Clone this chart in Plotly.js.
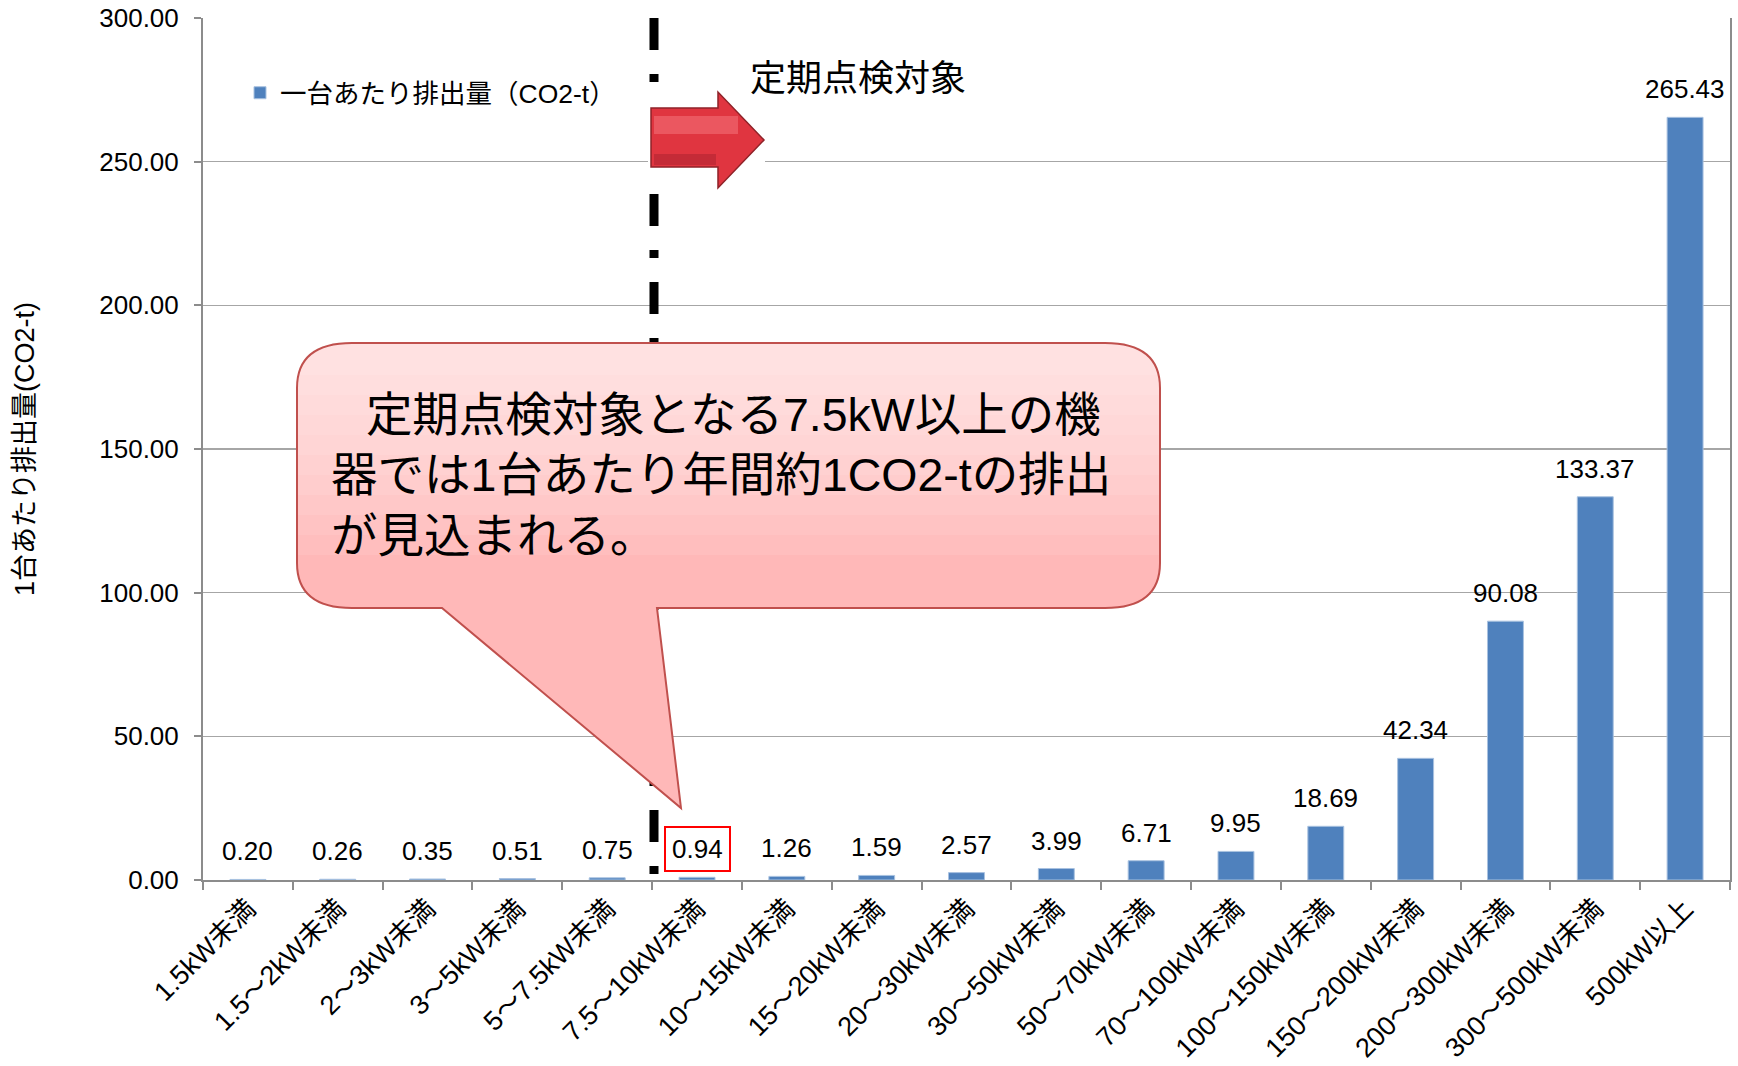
<!DOCTYPE html>
<html>
<head>
<meta charset="utf-8">
<script src="https://cdn.plot.ly/plotly-3.0.1.min.js"></script>
<style>
html,body{margin:0;padding:0;background:#fff;}
#chart{width:1738px;height:1066px;}
</style>
</head>
<body>
<div id="chart"></div>
<script>
// ---- data ----
const categories = ["1.5kW未満","1.5～2kW未満","2～3kW未満","3～5kW未満","5～7.5kW未満","7.5～10kW未満","10～15kW未満","15～20kW未満","20～30kW未満","30～50kW未満","50～70kW未満","70～100kW未満","100～150kW未満","150～200kW未満","200～300kW未満","300～500kW未満","500kW以上"];
const values = [0.20,0.26,0.35,0.51,0.75,0.94,1.26,1.59,2.57,3.99,6.71,9.95,18.69,42.34,90.08,133.37,265.43];
const seriesName = "一台あたり排出量（CO2-t）";
const yTickVals = [0,50,100,150,200,250,300];
const yTitle = "1台あたり排出量(CO2-t)";
const markerText = "定期点検対象";
const calloutText = "\u2002\u2005定期点検対象となる7.5kW以上の機<br>器では1台あたり年間約1CO2-tの排出<br>が見込まれる。";
const highlightIndex = 5;

// ---- layout helpers (pixel -> paper) ----
const L = 203, R = 1730, T = 18, B = 880;
const W = R - L, H = B - T;
const px = x => (x - L) / W;
const py = y => (B - y) / H;
const P = (x, y) => px(x).toFixed(5) + "," + py(y).toFixed(5);

const FONT = "Liberation Sans, Arial, Noto Sans CJK JP, sans-serif";
const CJK = "Liberation Sans, Noto Sans CJK JP, sans-serif";

function roundedTopPath(x0, y0, x1, y1, rx, ry) {
  return "M" + P(x0 + rx, y0) + " L" + P(x1 - rx, y0) +
    " Q" + P(x1, y0) + " " + P(x1, y0 + ry) +
    " L" + P(x1, y1) + " L" + P(x0, y1) +
    " L" + P(x0, y0 + ry) + " Q" + P(x0, y0) + " " + P(x0 + rx, y0) + " Z";
}
function calloutPath(x0, y0, x1, y1, rx, ry, b1, b2, tx, ty) {
  return "M" + P(x0 + rx, y0) + " L" + P(x1 - rx, y0) +
    " Q" + P(x1, y0) + " " + P(x1, y0 + ry) +
    " L" + P(x1, y1 - ry) + " Q" + P(x1, y1) + " " + P(x1 - rx, y1) +
    " L" + P(b2, y1) + " L" + P(tx, ty) + " L" + P(b1, y1) +
    " L" + P(x0 + rx, y1) + " Q" + P(x0, y1) + " " + P(x0, y1 - ry) +
    " L" + P(x0, y0 + ry) + " Q" + P(x0, y0) + " " + P(x0 + rx, y0) + " Z";
}

const cx0 = 297, cy0 = 343, cx1 = 1160, cy1 = 608, crx = 55, cry = 45;
const cPath = calloutPath(cx0, cy0, cx1, cy1, crx, cry, 442, 657, 681, 808);

const shapes = [];
// dash-dot boundary line
shapes.push({type: "line", xref: "paper", yref: "paper", x0: px(654), x1: px(654), y0: 1, y1: 0,
  line: {color: "#000", width: 9, dash: "32px,24px,8px,24px"}, layer: "above"});
// arrow background + arrow
shapes.push({type: "rect", xref: "paper", yref: "paper", x0: px(648), x1: px(765), y0: py(188), y1: py(83),
  fillcolor: "#fff", line: {width: 0}, layer: "above"});
shapes.push({type: "path", xref: "paper", yref: "paper",
  path: "M" + P(651, 108) + " L" + P(718, 108) + " L" + P(718, 92) + " L" + P(764, 140) +
        " L" + P(718, 188) + " L" + P(718, 167) + " L" + P(651, 167) + " Z",
  fillcolor: "#e03540", line: {color: "#8e2228", width: 1.5}, layer: "above"});
shapes.push({type: "rect", xref: "paper", yref: "paper", x0: px(654), x1: px(738), y0: py(134), y1: py(116),
  fillcolor: "#f57a80", opacity: 0.5, line: {width: 0}, layer: "above"});
shapes.push({type: "rect", xref: "paper", yref: "paper", x0: px(654), x1: px(716), y0: py(165), y1: py(154),
  fillcolor: "#9a1f2a", opacity: 0.4, line: {width: 0}, layer: "above"});
// callout base
shapes.push({type: "path", xref: "paper", yref: "paper", path: cPath,
  fillcolor: "#ffb8b8", line: {width: 0}, layer: "above"});
// gradient approximation (lighter toward top)
[375, 395, 415, 435, 455, 475, 495, 515, 535, 555].forEach(yb => {
  shapes.push({type: "path", xref: "paper", yref: "paper",
    path: roundedTopPath(cx0, cy0, cx1, yb, crx, cry),
    fillcolor: "#ffffff", opacity: 0.09, line: {width: 0}, layer: "above"});
});
// callout border
shapes.push({type: "path", xref: "paper", yref: "paper", path: cPath,
  fillcolor: "rgba(0,0,0,0)", line: {color: "#c0504d", width: 2}, layer: "above"});

const annotations = [];
values.forEach((v, i) => {
  const a = {x: categories[i], y: v, xref: "x", yref: "y", text: v.toFixed(2), showarrow: false,
    yanchor: "middle", xanchor: "center", yshift: 28, font: {family: FONT, size: 26, color: "#000"}};
  if (i === highlightIndex) { a.bordercolor = "#ff0000"; a.borderwidth = 2; a.borderpad = 6; a.bgcolor = "#fff"; }
  annotations.push(a);
});
annotations.push({xref: "paper", yref: "paper", x: px(858), y: py(79), text: markerText, showarrow: false,
  xanchor: "center", yanchor: "middle", font: {family: CJK, size: 36, color: "#000"}});
annotations.push({xref: "paper", yref: "paper", x: px(329), y: py(475), text: calloutText, showarrow: false,
  xanchor: "left", yanchor: "middle", align: "left", font: {family: CJK, size: 46.5, color: "#000"}});

const data = [{
  type: "bar", x: categories, y: values, name: seriesName,
  marker: {color: "#4f81bd", line: {color: "#a9c2e0", width: 1}},
  hoverinfo: "skip", showlegend: true
}];

const layout = {
  width: 1738, height: 1066,
  margin: {l: L, r: 1738 - R, t: T, b: 1066 - B, pad: 0},
  paper_bgcolor: "#fff", plot_bgcolor: "#fff",
  font: {family: FONT, color: "#000"},
  bargap: 0.6,
  showlegend: true,
  legend: {x: px(240), y: py(93), xanchor: "left", yanchor: "middle", bgcolor: "rgba(0,0,0,0)",
    font: {family: CJK, size: 26.5, color: "#000"}, itemwidth: 30},
  xaxis: {type: "category", categoryorder: "array", categoryarray: categories,
    showline: true, linecolor: "#8c8c8c", linewidth: 2,
    ticks: "outside", ticklen: 8, tickwidth: 2, tickcolor: "#8c8c8c", tickson: "boundaries",
    tickangle: -45, tickfont: {family: CJK, size: 27, color: "#000"},
    showgrid: false, automargin: false, fixedrange: true},
  yaxis: {range: [0, 300], tickvals: yTickVals, tickformat: ".2f",
    showline: true, linecolor: "#8c8c8c", linewidth: 2, mirror: true,
    ticks: "outside", ticklen: 7, tickwidth: 2, tickcolor: "#8c8c8c",
    showgrid: true, gridcolor: "#a6a6a6", gridwidth: 1.5, zeroline: false,
    tickfont: {family: FONT, size: 26, color: "#000"}, ticklabelstandoff: 10,
    title: {text: yTitle, font: {family: CJK, size: 27, color: "#000"}, standoff: 57},
    automargin: false, fixedrange: true},
  shapes: shapes,
  annotations: annotations
};

Plotly.newPlot("chart", data, layout, {staticPlot: true, displayModeBar: false});
</script>
</body>
</html>
